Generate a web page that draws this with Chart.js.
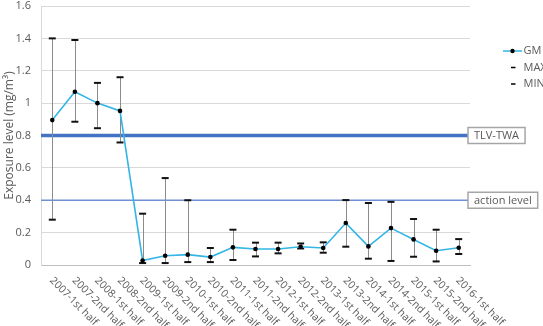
<!DOCTYPE html>
<html>
<head>
<meta charset="utf-8">
<script src="https://cdn.jsdelivr.net/npm/chart.js@4/dist/chart.umd.min.js"></script>
<style>
html,body{margin:0;padding:0;background:#fff;}
#wrap{width:543px;height:326px;}
</style>
</head>
<body>
<div id="wrap"><canvas id="c" width="543" height="326"></canvas></div>
<script>
const categories = ["2007-1st half","2007-2nd half","2008-1st half","2008-2nd half","2009-1st half","2009-2nd half","2010-1st half","2010-2nd half","2011-1st half","2011-2nd half","2012-1st half","2012-2nd half","2013-1st half","2013-2nd half","2014-1st half","2014-2nd half","2015-1st half","2015-2nd half","2016-1st half"];
const gmValues  = [0.895,1.07,1.0,0.952,0.028,0.057,0.064,0.049,0.109,0.099,0.099,0.113,0.105,0.259,0.115,0.228,0.158,0.088,0.107];
const maxValues = [1.40,1.39,1.125,1.16,0.317,0.537,0.40,0.105,0.218,0.138,0.138,0.133,0.14,0.401,0.383,0.39,0.284,0.218,0.16];
const minValues = [0.28,0.885,0.845,0.757,0.012,0.012,0.018,0.018,0.031,0.053,0.072,0.102,0.076,0.113,0.039,0.025,0.051,0.022,0.068];
const yTicks = [0,0.2,0.4,0.6,0.8,1,1.2,1.4,1.6];
const limitLines = [
  {label: "TLV-TWA", value: 0.8},
  {label: "action level", value: 0.4}
];
const legendNames = ["GM","MAX","MIN"];

const FONT = "'Open Sans', 'Noto Sans', sans-serif";
const TXT = '#595959';

const extrasPlugin = {
  id: 'extras',
  beforeDatasetsDraw(chart) {
    const ctx = chart.ctx, ca = chart.chartArea, y = chart.scales.y;
    limitLines.forEach((l, i) => {
      const py = y.getPixelForValue(l.value);
      ctx.save();
      ctx.strokeStyle = i === 0 ? '#4472c4' : '#7090d4';
      ctx.lineWidth = i === 0 ? 3.5 : 1.5;
      ctx.beginPath(); ctx.moveTo(ca.left, py); ctx.lineTo(ca.right - 2, py); ctx.stroke();
      ctx.restore();
    });
    const mx = chart.getDatasetMeta(1).data, mn = chart.getDatasetMeta(2).data;
    ctx.save();
    ctx.strokeStyle = '#8c8c8c'; ctx.lineWidth = 1;
    mx.forEach((p, i) => {
      const q = mn[i];
      ctx.beginPath(); ctx.moveTo(Math.round(p.x) + 0.5, p.y); ctx.lineTo(Math.round(q.x) + 0.5, q.y); ctx.stroke();
    });
    ctx.restore();
  },
  afterDraw(chart) {
    const ctx = chart.ctx, ca = chart.chartArea, y = chart.scales.y, x = chart.scales.x;
    ctx.save();
    ctx.font = '11px ' + FONT;
    limitLines.forEach(l => {
      const py = y.getPixelForValue(l.value);
      const w = ctx.measureText(l.label).width + 12;
      const bx = ca.right - 2, bh = 16;
      ctx.fillStyle = '#fff'; ctx.fillRect(bx, py - bh / 2, w, bh);
      ctx.strokeStyle = '#a6a6a6'; ctx.lineWidth = 1.5;
      ctx.strokeRect(bx, py - bh / 2, w, bh);
      ctx.fillStyle = TXT; ctx.textBaseline = 'middle'; ctx.textAlign = 'left';
      ctx.fillText(l.label, bx + 6, py + 0.5);
    });
    ctx.restore();
    ctx.save();
    ctx.font = '10.5px ' + FONT;
    ctx.fillStyle = TXT; ctx.textAlign = 'left'; ctx.textBaseline = 'middle';
    categories.forEach((c, i) => {
      const px = x.getPixelForTick(i);
      ctx.save();
      ctx.translate(px - 1, ca.bottom + 14);
      ctx.rotate(Math.PI / 4);
      ctx.fillText(c, 0, 0);
      ctx.restore();
    });
    ctx.restore();
    ctx.save();
    const lx = ca.right + 33, ly = 51, step = 16.5;
    ctx.font = '11px ' + FONT; ctx.textBaseline = 'middle'; ctx.fillStyle = TXT;
    legendNames.forEach((n, i) => {
      const yy = ly + i * step;
      if (i === 0) {
        ctx.strokeStyle = '#33b5e5'; ctx.lineWidth = 1.5;
        ctx.beginPath(); ctx.moveTo(lx, yy); ctx.lineTo(lx + 19, yy); ctx.stroke();
        ctx.fillStyle = '#000'; ctx.beginPath(); ctx.arc(lx + 9.5, yy, 2.2, 0, Math.PI * 2); ctx.fill();
      } else {
        ctx.strokeStyle = '#000'; ctx.lineWidth = 1.5;
        ctx.beginPath(); ctx.moveTo(lx + 8, yy); ctx.lineTo(lx + 12.5, yy); ctx.stroke();
      }
      ctx.fillStyle = TXT;
      ctx.fillText(n, lx + 20.5, yy);
    });
    ctx.restore();
  }
};

new Chart(document.getElementById('c'), {
  type: 'line',
  data: {
    labels: categories,
    datasets: [
      {label: legendNames[0], data: gmValues, borderColor: '#33b5e5', borderWidth: 1.6, backgroundColor: '#000',
       pointRadius: 2.3, pointBorderWidth: 0, pointBackgroundColor: '#000', tension: 0, order: 0},
      {label: legendNames[1], data: maxValues, showLine: false, pointStyle: 'line', pointRadius: 3.5,
       pointBorderWidth: 2, pointBorderColor: '#111', borderColor: '#111', order: 1},
      {label: legendNames[2], data: minValues, showLine: false, pointStyle: 'line', pointRadius: 3.5,
       pointBorderWidth: 2, pointBorderColor: '#111', borderColor: '#111', order: 2}
    ]
  },
  options: {
    responsive: false,
    animation: false,
    events: [],
    layout: {padding: {left: 0, right: 73, top: 6, bottom: 0}},
    plugins: {legend: {display: false}, tooltip: {enabled: false}},
    scales: {
      x: {
        offset: true,
        grid: {display: false, drawTicks: false, offset: true},
        border: {display: true, color: '#bfbfbf', width: 1},
        ticks: {display: false},
        afterFit: s => { s.height = 61; s.paddingLeft = 0; s.paddingRight = 0; }
      },
      y: {
        min: 0, max: 1.6,
        afterBuildTicks: s => { s.ticks = yTicks.map(v => ({value: v})); },
        grid: {color: '#d9d9d9', lineWidth: 1, drawTicks: false},
        border: {display: true, color: '#d9d9d9', width: 1},
        ticks: {color: TXT, font: {family: FONT, size: 11}, padding: 10,
                callback: v => String(Math.round(v * 10) / 10)},
        title: {display: true, text: 'Exposure level (mg/m³)', color: TXT,
                font: {family: FONT, size: 12}, padding: {top: 2, bottom: 0}},
        afterFit: s => { s.width = 41; s.paddingTop = 0; s.paddingBottom = 0; }
      }
    }
  },
  plugins: [extrasPlugin]
});
</script>
</body>
</html>
